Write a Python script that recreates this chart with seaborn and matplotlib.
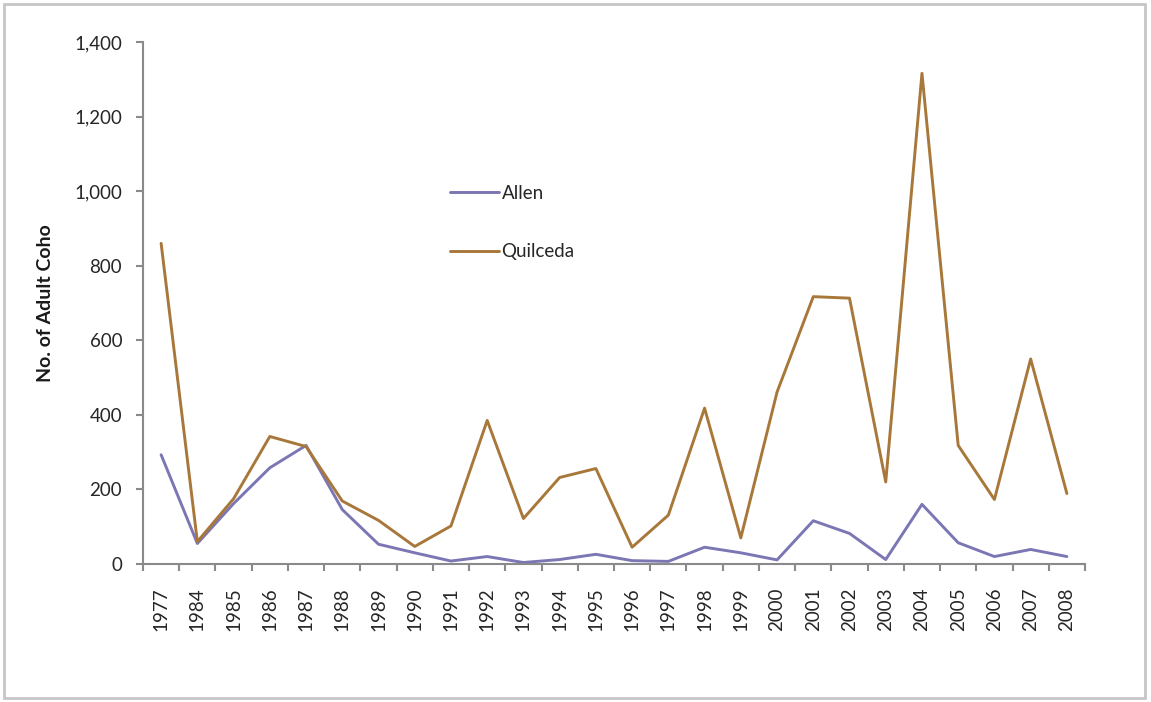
import numpy as np
import pandas as pd
import matplotlib.pyplot as plt
import seaborn as sns
from matplotlib.patches import Rectangle
from matplotlib.ticker import FuncFormatter

# adult coho counts per year
years = ['1977', '1984', '1985', '1986', '1987', '1988', '1989', '1990', '1991',
         '1992', '1993', '1994', '1995', '1996', '1997', '1998', '1999', '2000',
         '2001', '2002', '2003', '2004', '2005', '2006', '2007', '2008']
allen = [293, 55, 162, 258, 318, 146, 53, 30, 8, 20, 4, 12, 26, 9, 7, 45, 30,
         11, 116, 82, 12, 160, 57, 20, 39, 20]
quilceda = [860, 60, 175, 342, 315, 169, 117, 47, 102, 385, 122, 232, 256, 45,
            131, 418, 70, 461, 717, 713, 220, 1316, 318, 173, 550, 189]

df = pd.DataFrame({
    'Year': years * 2,
    'Count': allen + quilceda,
    'River': ['Allen'] * len(years) + ['Quilceda'] * len(years),
})

sns.set_style('white')
plt.rcParams['font.family'] = ['Lato', 'DejaVu Sans']

W, H = 1151, 702
fig = plt.figure(figsize=(W / 100, H / 100), dpi=100)
ax = fig.add_axes([143 / W, 1 - 564 / H, (1085 - 143) / W, (564 - 42) / H])

axis_grey = '#8a8a8a'
sns.lineplot(data=df, x='Year', y='Count', hue='River', sort=False,
             estimator=None, linewidth=2.1, ax=ax,
             palette={'Allen': '#7b76b4', 'Quilceda': '#a8773a'})

ax.set_xlim(-0.5, len(years) - 0.5)
ax.set_ylim(0, 1400)
ax.set_yticks(range(0, 1401, 200))
ax.yaxis.set_major_formatter(FuncFormatter(lambda v, p: f'{int(v):,}'))
ax.set_xticks(np.arange(-0.5, len(years), 1), minor=True)

for s in ['top', 'right']:
    ax.spines[s].set_visible(False)
for s in ['left', 'bottom']:
    ax.spines[s].set_color(axis_grey)
    ax.spines[s].set_linewidth(1.5)

ax.tick_params(axis='y', direction='out', length=5, width=1.5, color=axis_grey,
               labelsize=13.5, labelcolor='#262626', pad=10, left=True)
ax.tick_params(axis='x', which='major', length=0, labelsize=13.5,
               labelcolor='#262626', pad=17, labelrotation=90)
ax.tick_params(axis='x', which='minor', direction='out', length=5, width=1.5,
               color=axis_grey, bottom=True)

ax.set_xlabel('')
ax.set_ylabel('No. of Adult Coho', fontsize=14, fontweight='bold', color='#1a1a1a')
ax.yaxis.set_label_coords(-0.095, 0.5)

handles, labels = ax.get_legend_handles_labels()
ax.legend(handles, labels, loc='upper left',
          bbox_to_anchor=(450 / W, 1 - 185 / H), bbox_transform=fig.transFigure,
          frameon=False, fontsize=13.5, handlelength=2.6, handletextpad=0.15,
          labelspacing=2.2, borderpad=0, borderaxespad=0)

fig.patches.append(Rectangle((4 / W, 4 / H), (1145 - 4) / W, (698 - 4) / H,
                             transform=fig.transFigure, fill=False,
                             edgecolor='#c6c6c6', linewidth=2))

fig.savefig('out.png', dpi=100)
